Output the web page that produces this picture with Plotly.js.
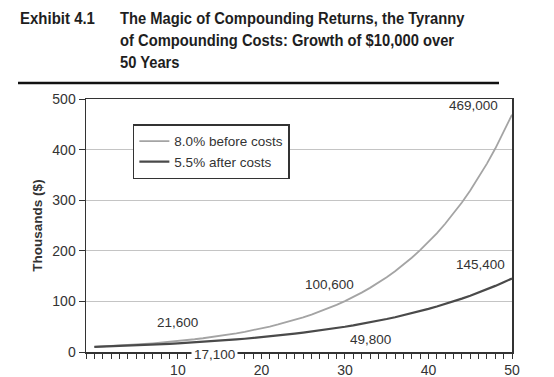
<!DOCTYPE html>
<html><head><meta charset="utf-8">
<script src="https://cdn.plot.ly/plotly-3.0.1.min.js"></script>
<style>html,body{margin:0;padding:0;background:#fff}#chart{width:554px;height:377px}</style>
</head><body><div id="chart"></div>
<script>
// Years since start
const years = [0,1,2,3,4,5,6,7,8,9,10,11,12,13,14,15,16,17,18,19,20,21,22,23,24,25,26,27,28,29,30,31,32,33,34,35,36,37,38,39,40,41,42,43,44,45,46,47,48,49,50];
// Value in thousands of dollars, 8.0% before costs
const beforeCosts = [10,10.8,11.66,12.6,13.6,14.69,15.87,17.14,18.51,19.99,21.59,23.32,25.18,27.2,29.37,31.72,34.26,37,39.96,43.16,46.61,50.34,54.37,58.71,63.41,68.48,73.96,79.88,86.27,93.17,100.63,108.68,117.37,126.76,136.9,147.85,159.68,172.46,186.25,201.15,217.25,234.62,253.39,273.67,295.56,319.2,344.74,372.32,402.11,434.27,469.02];
// Value in thousands of dollars, 5.5% after costs
const afterCosts = [10,10.55,11.13,11.74,12.39,13.07,13.79,14.55,15.35,16.19,17.08,18.02,19.01,20.06,21.16,22.32,23.55,24.85,26.21,27.66,29.18,30.78,32.48,34.26,36.15,38.13,40.23,42.44,44.78,47.24,49.84,52.58,55.47,58.52,61.74,65.14,68.72,72.5,76.49,80.69,85.13,89.82,94.76,99.97,105.46,111.27,117.39,123.84,130.65,137.84,145.42];
const seriesNames = ["8.0% before costs", "5.5% after costs"];
const xTickVals = [10,20,30,40,50];
const yTickVals = [0,100,200,300,400,500];
const labelsBefore = ["21,600","100,600","469,000"];
const labelsAfter = ["17,100","49,800","145,400"];

const font = "Liberation Sans, Arial, sans-serif";
const traces = [
  {x: years, y: beforeCosts, name: seriesNames[0], mode: "lines", line: {color: "#a4a4a4", width: 1.8}},
  {x: years, y: afterCosts, name: seriesNames[1], mode: "lines", line: {color: "#4a4a4a", width: 2.2}}
];
const annFont = {family: font, size: 13.5, color: "#333"};
// [x, y, xref, yref]
const annPos = [
  [10, 59, "x", "y"], [28.1, 134, "x", "y"], [45.4, 488, "x", "y"],
  [14.4, -0.008, "x", "paper"], [33, 24, "x", "y"], [46.2, 172, "x", "y"]
];
const allLabels = labelsBefore.concat(labelsAfter);
const annotations = allLabels.map((t, i) => ({
  text: t, x: annPos[i][0], y: annPos[i][1], xref: annPos[i][2], yref: annPos[i][3],
  xanchor: "center", yanchor: "middle",
  showarrow: false, font: annFont, bgcolor: i === 3 ? "#fff" : "rgba(0,0,0,0)",
  borderpad: 2
}));
const titleFont = {family: "Liberation Sans, Arial, sans-serif", size: 17, color: "#1e1e1e"};
annotations.push(
  {text: "<b>Exhibit 4.1</b>", xref: "paper", yref: "paper", x: -0.1596, y: 1.3636, xanchor: "left", yanchor: "top",
   showarrow: false, font: titleFont},
  {text: "<b>The Magic of Compounding Returns, the Tyranny<br>of Compounding Costs: Growth of $10,000 over<br>50 Years</b>",
   xref: "paper", yref: "paper", x: 0.0751, y: 1.3636, xanchor: "left", yanchor: "top", align: "left",
   showarrow: false, font: titleFont}
);
const layout = {
  width: 554, height: 377,
  margin: {l: 86, r: 42, t: 99, b: 25},
  paper_bgcolor: "#fff", plot_bgcolor: "#fff",
  showlegend: true,
  legend: {x: 0.11, y: 0.9, xanchor: "left", yanchor: "top", bgcolor: "#fff", bordercolor: "#333", borderwidth: 1.5,
           font: {family: font, size: 13.5, color: "#333"}, itemwidth: 30, tracegroupgap: 2},
  xaxis: {range: [-1, 50], tickvals: xTickVals, ticks: "outside", ticklen: 5, tickcolor: "#333", tickwidth: 1,
          minor: {dtick: 1, tick0: 0, ticks: "outside", ticklen: 5, tickcolor: "#333", showgrid: false},
          showline: true, linecolor: "#333", linewidth: 1.5, mirror: true, showgrid: false, zeroline: false,
          tickfont: {family: font, size: 14, color: "#333"}},
  yaxis: {range: [0, 500], tickvals: yTickVals, ticks: "outside", ticklen: 6, tickcolor: "#333",
          showline: true, linecolor: "#333", linewidth: 1.5, mirror: true, showgrid: true, gridcolor: "#c4c4c4", gridwidth: 1,
          zeroline: false, tickfont: {family: font, size: 14, color: "#333"},
          title: {text: "<b>Thousands ($)</b>", font: {family: font, size: 13.5, color: "#333"}, standoff: 6}},
  shapes: [{type: "line", xref: "paper", yref: "paper", x0: -0.1596, x1: 0.9695, y0: 1.0632, y1: 1.0632, line: {color: "#111", width: 2.5}}],
  annotations: annotations
};
Plotly.newPlot("chart", traces, layout, {displayModeBar: false, staticPlot: true}).then(function () {
  // condense the title lettering to match the narrow typeface of the original
  document.querySelectorAll("#chart .annotation-text").forEach(function (el) {
    const txt = el.textContent;
    let w = null;
    if (txt.indexOf("Exhibit 4.1") === 0) w = 75;
    else if (txt.indexOf("The Magic") === 0) w = 345;
    if (w) {
      const bb = el.getBBox();
      el.style.transformBox = "fill-box";
      el.style.transformOrigin = "left center";
      el.style.transform = "scaleX(" + (w / bb.width).toFixed(4) + ")";
    }
  });
});
</script></body></html>
